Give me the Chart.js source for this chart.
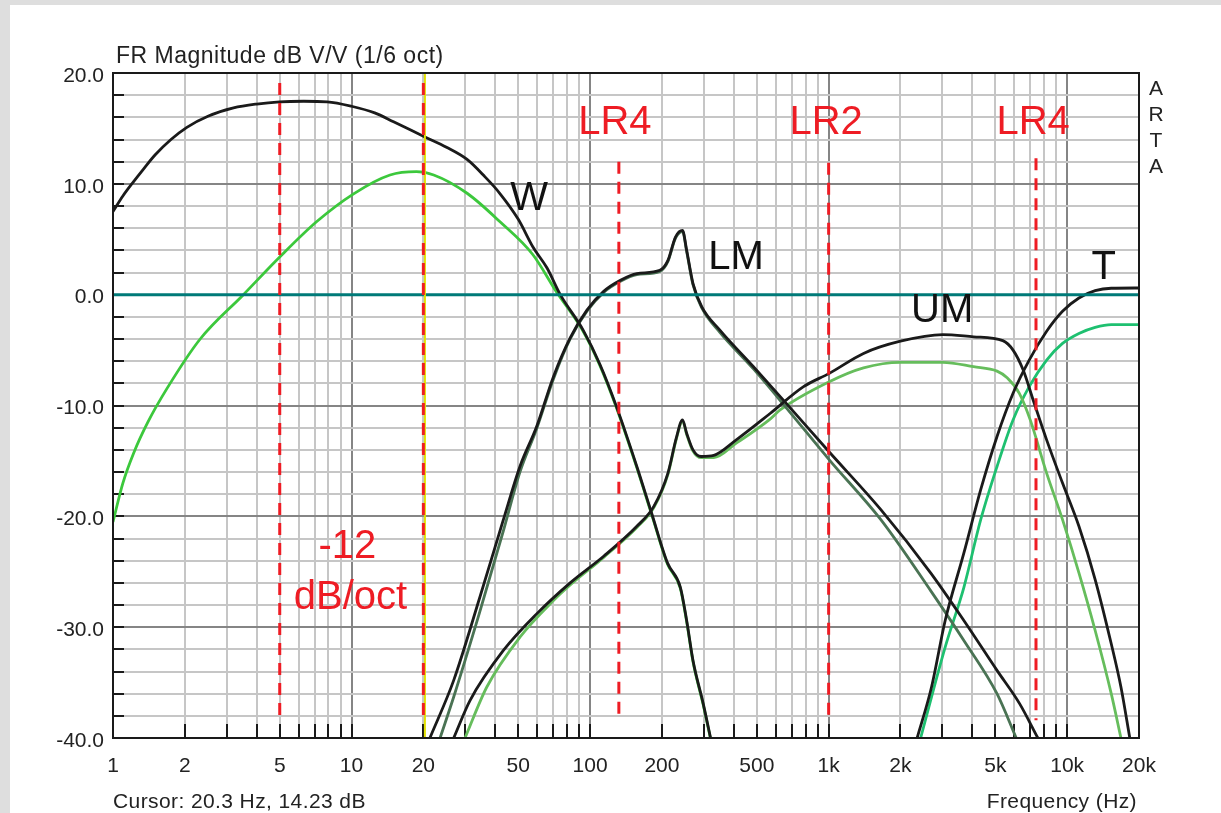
<!DOCTYPE html>
<html>
<head>
<meta charset="utf-8">
<script src="https://cdn.jsdelivr.net/npm/chart.js@4.4.1/dist/chart.umd.min.js"></script>
<style>
  html, body { margin: 0; padding: 0; }
  body { width: 1221px; height: 813px; background: #dedede; position: relative; overflow: hidden;
         font-family: "Liberation Sans", Arial, sans-serif; }
  #panel { position: absolute; left: 10px; top: 5px; right: 0; bottom: 0; background: #fff; }
  #chart { position: absolute; left: 0; top: 0; }
  .txt { position: absolute; color: #222; font-size: 21px; line-height: 1; white-space: nowrap; letter-spacing: 0.4px; }
</style>
</head>
<body>
<div id="panel"></div>
<canvas id="chart" width="1221" height="813"></canvas>
<div class="txt" style="left:116px; top:44px; font-size:23px; letter-spacing:0.5px;">FR Magnitude dB V/V (1/6 oct)</div>
<div class="txt" style="left:1146px; top:75px; width:20px; text-align:center; line-height:26px; letter-spacing:0;">A<br>R<br>T<br>A</div>
<div class="txt" style="left:113px; top:790px;">Cursor: 20.3 Hz, 14.23 dB</div>
<div class="txt" style="right:84px; top:790px;">Frequency (Hz)</div>
<script>
// axis ticks
const xGridHz = [1, 2, 3, 4, 5, 6, 7, 8, 9, 10, 20, 30, 40, 50, 60, 70, 80, 90,
  100, 200, 300, 400, 500, 600, 700, 800, 900, 1000, 2000, 3000, 4000, 5000, 6000,
  7000, 8000, 9000, 10000, 20000];
const xLabelHz = [1, 2, 5, 10, 20, 50, 100, 200, 500, 1000, 2000, 5000, 10000, 20000];
const xLabelText = ['1', '2', '5', '10', '20', '50', '100', '200', '500', '1k', '2k', '5k', '10k', '20k'];
const yTicksDb = [-40, -38, -36, -34, -32, -30, -28, -26, -24, -22, -20, -18, -16, -14, -12,
  -10, -8, -6, -4, -2, 0, 2, 4, 6, 8, 10, 12, 14, 16, 18, 20];
const yLabelDb = [20, 10, 0, -10, -20, -30, -40];

// woofer
const wBlackHz = [1, 1.1, 1.22, 1.35, 1.5, 1.75, 2.04, 2.5, 3.2, 4, 5, 6.3, 7.9, 10, 12.5, 15,
  20.3, 25, 30.5, 36, 41.8, 50, 57.6, 66, 75, 93.5, 110, 129, 157, 181, 211, 239, 254, 270, 298, 320];
const wBlackDb = [7.5, 8.9, 10.2, 11.4, 12.6, 14.0, 15.1, 16.1, 16.85, 17.2, 17.4, 17.45, 17.4,
  17.0, 16.4, 15.6, 14.23, 13.3, 12.2, 10.7, 9.15, 6.8, 4.3, 2.4, 0.0, -3.2, -6.3, -10.1, -15.5,
  -19.7, -24.2, -26.4, -29.4, -33.0, -36.9, -40];
const wGreenHz = [1, 1.1, 1.22, 1.4, 1.68, 2.32, 3.52, 5, 7.15, 10.2, 14.5, 18.7, 22.1, 30.5, 41.8,
  57.6, 72, 93.5, 110, 129, 157, 181, 211, 239, 254, 270, 298, 320];
const wGreenDb = [-20.5, -17.0, -14.3, -11.5, -8.5, -4.0, 0.0, 3.4, 6.6, 9.1, 10.8, 11.1, 10.8,
  9.15, 6.6, 3.6, 0.3, -3.3, -6.4, -10.2, -15.6, -19.8, -24.3, -26.5, -29.5, -33.1, -37.0, -40.1];

// low mid
const lmBlackHz = [21.3, 26.8, 34.5, 43.3, 50.8, 59.7, 70.2, 82.5, 97, 114, 134, 157, 196, 212,
  228, 244, 254, 270, 294, 350, 484, 670, 1006, 1655, 2676, 3688, 5078, 6316, 7535];
const lmBlackDb = [-40, -34.8, -27.3, -20.3, -15.5, -11.9, -7.4, -3.9, -1.4, 0.3, 1.3, 1.9, 2.2,
  3.1, 5.2, 5.8, 4.0, 1.0, -1.1, -3.2, -6.5, -9.9, -14.2, -19.4, -25.1, -29.4, -33.9, -36.9, -40];
const lmGreenHz = [23.5, 26.8, 34.5, 43.3, 50.8, 59.7, 70.2, 82.5, 97, 114, 134, 157, 196, 212,
  228, 244, 254, 270, 294, 350, 484, 670, 1006, 1655, 2676, 3688, 5078, 6115];
const lmGreenDb = [-40, -36.3, -28.6, -21.3, -16.0, -12.1, -7.6, -4.0, -1.5, 0.2, 1.2, 1.8, 2.1,
  3.0, 5.1, 5.7, 3.9, 0.9, -1.2, -3.4, -6.7, -10.3, -14.9, -20.3, -26.7, -31.2, -36.0, -40];

// upper mid
const umBlackHz = [26.8, 31.4, 43.3, 59.7, 82.5, 114, 157, 185, 212, 230, 244, 254, 270, 292,
  330, 410, 570, 785, 1006, 1400, 2000, 3010, 4050, 5370, 5930, 6540, 7200, 8200, 9560, 11200,
  13100, 15300, 16800, 18300];
const umBlackDb = [-40, -36.6, -32.1, -28.8, -26.0, -23.6, -20.9, -19.1, -16.1, -12.9, -11.3,
  -12.5, -14.0, -14.6, -14.5, -13.1, -10.7, -8.3, -7.1, -5.3, -4.2, -3.6, -3.8, -4.15, -5.0,
  -6.8, -9.5, -13.1, -17.0, -20.9, -25.7, -31.5, -35.4, -40];
const umGreenHz = [29.9, 36.9, 50.8, 70.2, 82.5, 114, 157, 185, 212, 230, 244, 254, 270, 292,
  330, 410, 570, 626, 1006, 1400, 2000, 3010, 4050, 5080, 5600, 6300, 7000, 8200, 9560, 11200,
  13100, 15300, 16800];
const umGreenDb = [-40, -35.4, -30.9, -27.6, -26.2, -23.7, -21.0, -19.2, -16.2, -13.0, -11.4,
  -12.6, -14.1, -14.7, -14.7, -13.4, -11.2, -10.4, -7.85, -6.6, -6.1, -6.1, -6.5, -6.9, -7.5,
  -8.9, -11.3, -16.1, -20.3, -25.1, -30.3, -36.0, -40];

// tweeter
const tBlackHz = [2350, 2700, 3080, 3690, 4340, 5080, 5930, 6930, 8200, 9560, 11200, 13100, 15300, 20000];
const tBlackDb = [-40, -35.4, -29.4, -23.3, -17.6, -12.8, -8.9, -5.9, -3.3, -1.5, -0.3, 0.36, 0.58, 0.6];
const tGreenHz = [2430, 3080, 3690, 4340, 5080, 5930, 6930, 8200, 9560, 11200, 13100, 15300, 20000];
const tGreenDb = [-40, -31.8, -26.4, -20.3, -15.5, -11.3, -8.3, -5.9, -4.4, -3.5, -2.95, -2.7, -2.7];

// crossover markers (dashed red) and cursor
const markerHz = [5, 20, 132, 1000, 7400];
const markerTopDb = [19.1, 19.1, 12.0, 11.9, 12.3];
const markerBottomDb = -38.4;
const cursorHz = 20.3;

// text notes
const noteText = ['LR4', 'LR2', 'LR4', '-12', 'dB/oct', 'W', 'LM', 'UM', 'T'];
const noteHz = [127, 976, 7200, 9.6, 9.9, 55.5, 409, 2990, 14230];
const noteDb = [15.5, 15.5, 15.5, -22.8, -27.4, 8.6, 3.3, -1.5, 2.4];

const BLACK = '#1a1a1a';
const RED = '#ee1c24';
const FONT = "'Liberation Sans', Arial, sans-serif";

function pts(hz, db) {
  return hz.map((f, i) => ({ x: f, y: db[i] }));
}

function curve(hz, db, color, order) {
  return {
    data: pts(hz, db),
    borderColor: color,
    borderWidth: 2.8,
    cubicInterpolationMode: 'monotone',
    order: order
  };
}

const datasets = [];
markerHz.forEach((f, i) => {
  datasets.push({
    data: [{ x: f, y: markerTopDb[i] }, { x: f, y: markerBottomDb }],
    borderColor: RED, borderWidth: 3, borderDash: [12, 8], order: 0
  });
});
datasets.push({ data: [{ x: cursorHz, y: 20 }, { x: cursorHz, y: -40 }], borderColor: '#e2e000', borderWidth: 2, order: 1 });
datasets.push({ data: [{ x: 1, y: 0 }, { x: 20000, y: 0 }], borderColor: '#007a78', borderWidth: 3, order: 2 });
datasets.push(curve(wBlackHz, wBlackDb, BLACK, 3));
datasets.push(curve(lmBlackHz, lmBlackDb, BLACK, 3));
datasets.push(curve(umBlackHz, umBlackDb, BLACK, 3));
datasets.push(curve(tBlackHz, tBlackDb, BLACK, 3));
datasets.push(curve(wGreenHz, wGreenDb, '#3cc83c', 4));
datasets.push(curve(lmGreenHz, lmGreenDb, '#4a7354', 4));
datasets.push(curve(umGreenHz, umGreenDb, '#66bd5c', 4));
datasets.push(curve(tGreenHz, tGreenDb, '#1ec070', 4));

function isDecade(v) {
  const l = Math.log10(v);
  return Math.abs(l - Math.round(l)) < 1e-6;
}

// inner tick marks, frame and labels like ARTA draws them
const artaExtras = {
  id: 'artaExtras',
  beforeDatasetsDraw(chart) {
    const { ctx, chartArea: a, scales: { x, y } } = chart;
    ctx.save();
    ctx.strokeStyle = BLACK;
    ctx.lineWidth = 2;
    ctx.beginPath();
    yTicksDb.forEach(v => {
      const py = Math.round(y.getPixelForValue(v));
      ctx.moveTo(a.left, py);
      ctx.lineTo(a.left + 11, py);
    });
    xGridHz.forEach(v => {
      const px = Math.round(x.getPixelForValue(v));
      ctx.moveTo(px, a.bottom);
      ctx.lineTo(px, a.bottom - 14);
    });
    ctx.stroke();
    ctx.restore();
  },
  afterDatasetsDraw(chart) {
    const { ctx, chartArea: a, scales: { x, y } } = chart;
    ctx.save();
    ctx.strokeStyle = BLACK;
    ctx.lineWidth = 2;
    ctx.strokeRect(a.left, a.top, a.right - a.left, a.bottom - a.top);
    ctx.font = '40px ' + FONT;
    ctx.textAlign = 'center';
    ctx.textBaseline = 'middle';
    noteText.forEach((t, i) => {
      ctx.fillStyle = i < 5 ? RED : '#111';
      ctx.fillText(t, x.getPixelForValue(noteHz[i]), y.getPixelForValue(noteDb[i]));
    });
    ctx.restore();
  }
};

const tickFont = { family: FONT, size: 21 };

new Chart(document.getElementById('chart').getContext('2d'), {
  type: 'line',
  data: { datasets: datasets },
  options: {
    responsive: false,
    animation: false,
    layout: { padding: { top: 73, right: 82, bottom: 0, left: 0 } },
    plugins: { legend: { display: false }, tooltip: { enabled: false } },
    elements: { point: { radius: 0 }, line: { borderCapStyle: 'butt' } },
    scales: {
      x: {
        type: 'logarithmic',
        min: 1,
        max: 20000,
        afterBuildTicks: s => { s.ticks = xGridHz.map(v => ({ value: v })); },
        afterFit: s => { s.height = 75; },
        border: { display: false },
        grid: {
          drawTicks: false,
          lineWidth: 2,
          color: c => isDecade(c.tick.value) ? '#858585' : '#c6c6c6'
        },
        ticks: {
          autoSkip: false,
          maxRotation: 0,
          padding: 16,
          color: '#222',
          font: tickFont,
          callback: v => {
            const i = xLabelHz.indexOf(v);
            return i >= 0 ? xLabelText[i] : '';
          }
        }
      },
      y: {
        min: -40,
        max: 20,
        afterBuildTicks: s => { s.ticks = yTicksDb.map(v => ({ value: v })); },
        afterFit: s => { s.width = 113; },
        border: { display: false },
        grid: {
          drawTicks: false,
          lineWidth: 2,
          color: c => c.tick.value % 10 === 0 ? '#858585' : '#c6c6c6'
        },
        ticks: {
          autoSkip: false,
          padding: 9,
          labelOffset: 3,
          color: '#222',
          font: tickFont,
          callback: v => yLabelDb.includes(v) ? v.toFixed(1) : ''
        }
      }
    }
  },
  plugins: [artaExtras]
});
</script>
</body>
</html>
